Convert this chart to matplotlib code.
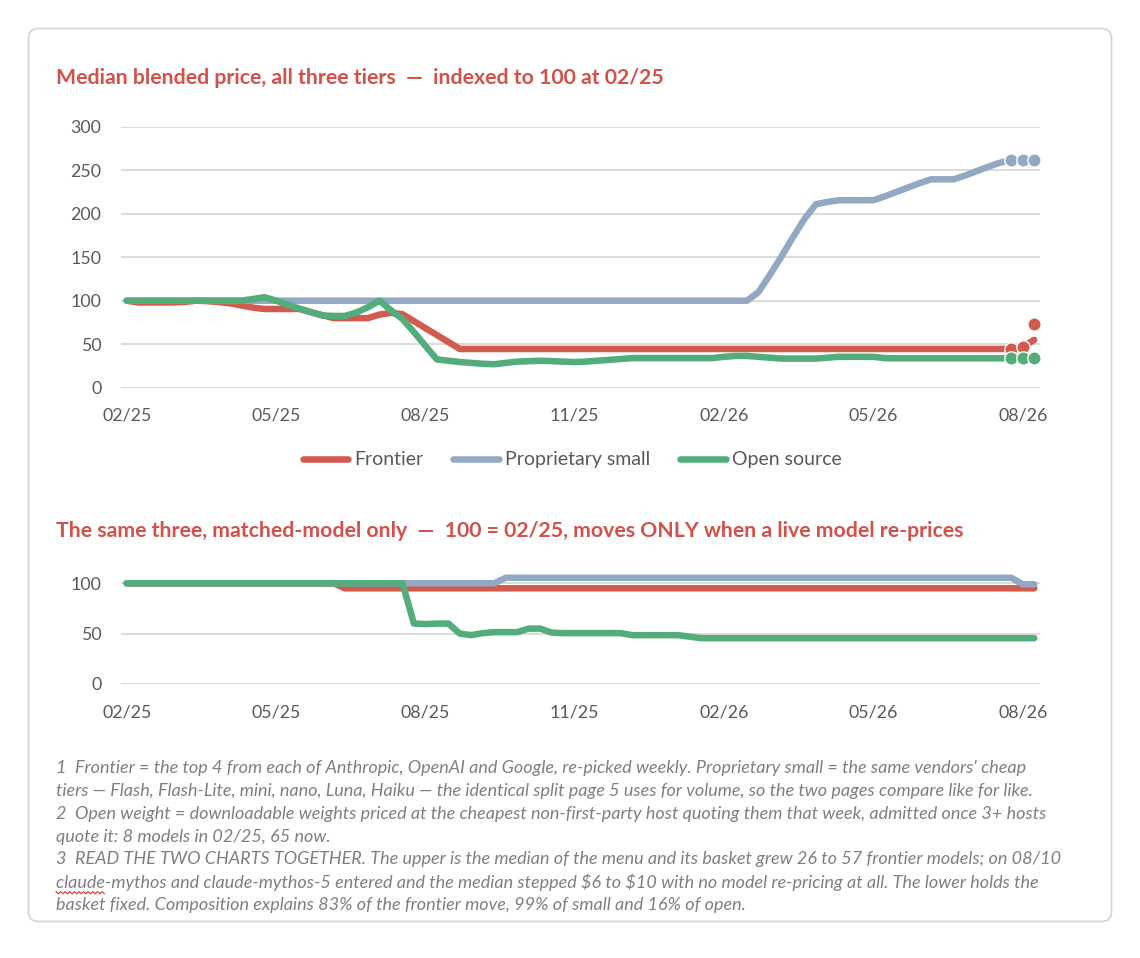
import matplotlib
matplotlib.use("Agg")
import matplotlib.pyplot as plt
from matplotlib.lines import Line2D
from matplotlib.patches import FancyBboxPatch
from matplotlib.transforms import IdentityTransform
import numpy as np

# ---------------- data ----------------
series_names = ["Frontier", "Proprietary small", "Open source"]
tick_labels = ["02/25", "05/25", "08/25", "11/25", "02/26", "05/26", "08/26"]
weeks_between_labels = 13

# upper chart: median blended price, indexed to 100 at 02/25 (weekly)
frontier_top = ([100] + [98] * 4 + [98.5, 100, 99.5, 98.5, 97, 94.5, 92] + [90.5] * 4
                + [87, 83.5] + [80] * 4 + [84, 86, 84.5, 76.5, 68.5, 60.5, 52.5, 44.5]
                + [44.5] * 47 + [45, 47, 55])
frontier_latest_point = 73
small_top = ([100] * 55 + [110, 130, 151, 173, 194, 211, 213.5, 215.5, 215.5, 215.5, 215.5,
                           220, 225, 230, 235, 239.5, 239.5, 239.5, 244, 249, 254, 258.5,
                           262, 262, 262])
open_top = ([100] * 11 + [102, 104, 100, 95.5, 91, 87, 83, 82.5, 82.5, 86.5, 92.5, 100, 89, 79,
                          64, 48, 32.5, 31, 29.5, 28.5, 27.5, 27, 28.5, 30, 30.5, 31, 30.5, 30,
                          29.5, 30, 31, 32, 33, 34]
            + [34] * 7 + [35.5, 36.5, 36.5, 35.5, 34.5, 33.5, 33.5, 33.5, 33.5, 34.5, 35.5,
                          35.5, 35.5, 35.5, 34]
            + [33.8] * 13)

# lower chart: matched-model only, 100 = 02/25 (weekly)
frontier_bot = [100] * 19 + [95] * 61
small_bot = [100] * 33 + [105.5] * 45 + [99, 99]
open_bot = ([100] * 25 + [60, 59.5, 60, 60, 50, 48.5, 50.5, 51.5, 51.5, 51.5, 55, 55, 51]
            + [50.5] * 6 + [48.5] * 4 + [48.5, 47] + [45.5] * 30)

top_yticks = [0, 50, 100, 150, 200, 250, 300]
bot_yticks = [0, 50, 100]

title_top = "Median blended price, all three tiers  \u2014  indexed to 100 at 02/25"
title_bot = ("The same three, matched-model only  \u2014  100 = 02/25, moves ONLY when a "
             "live model re-prices")
footnotes = [
    "1  Frontier = the top 4 from each of Anthropic, OpenAI and Google, re-picked weekly. Proprietary small = the same vendors' cheap",
    "tiers \u2014 Flash, Flash-Lite, mini, nano, Luna, Haiku \u2014 the identical split page 5 uses for volume, so the two pages compare like for like.",
    "2  Open weight = downloadable weights priced at the cheapest non-first-party host quoting them that week, admitted once 3+ hosts",
    "quote it: 8 models in 02/25, 65 now.",
    "3  READ THE TWO CHARTS TOGETHER. The upper is the median of the menu and its basket grew 26 to 57 frontier models; on 08/10",
    "claude-mythos and claude-mythos-5 entered and the median stepped $6 to $10 with no model re-pricing at all. The lower holds the",
    "basket fixed. Composition explains 83% of the frontier move, 99% of small and 16% of open.",
]

# ---------------- style ----------------
RED = "#D35A4F"
BLUE = "#93A8C3"
GREEN = "#52AD7B"
TITLE_RED = "#D4504A"
GRID = "#DADAD3"
TICK = "#595959"
NOTE = "#7F7F7F"
colors = [RED, BLUE, GREEN]
FONT = "Lato"
NOTE_SIZE = 13.0
TITLE_SIZE = 15.3

W, H = 1140, 958
fig = plt.figure(figsize=(W / 100, H / 100), dpi=100)
fig.patch.set_facecolor("white")


def fx(px):
    return px / W


def fy(py):
    return 1 - py / H


border = FancyBboxPatch((28.5, H - 921.5), 1083, 893, boxstyle="round,pad=0,rounding_size=10",
                        transform=IdentityTransform(), fc="white", ec="#D6D6D6", lw=1.3,
                        zorder=0)
fig.add_artist(border)

ax1 = fig.add_axes([fx(121), fy(387.7), (1040 - 121) / W, (387.7 - 126.7) / H])
ax2 = fig.add_axes([fx(121), fy(684), (1040 - 121) / W, (684 - 573.2) / H])

n = len(frontier_top)
x = np.arange(n)
tick_pos = np.arange(0, n, weeks_between_labels)[:len(tick_labels)]

for ax, yt, ylim in [(ax1, top_yticks, (0, 300)), (ax2, bot_yticks, (0, 110))]:
    ax.set_facecolor("none")
    for s in ax.spines.values():
        s.set_visible(False)
    ax.set_xlim(-0.5, n - 0.5)
    ax.set_ylim(*ylim)
    ax.set_yticks(yt)
    ax.set_yticklabels([str(v) for v in yt])
    ax.set_xticks(tick_pos)
    ax.set_xticklabels(tick_labels)
    ax.yaxis.grid(True, color=GRID, lw=1.3)
    ax.set_axisbelow(True)
    ax.tick_params(axis="both", length=0, colors=TICK, labelsize=12.8)
    ax.tick_params(axis="y", pad=14.2)
    ax.tick_params(axis="x", pad=14.5)
    for lab in ax.get_xticklabels() + ax.get_yticklabels():
        lab.set_fontfamily(FONT)
        lab.set_color(TICK)

LW = 4.7
for vals, c in zip([frontier_top, small_top, open_top], colors):
    ax1.plot(x, vals, color=c, lw=LW, solid_capstyle="round", solid_joinstyle="round",
             zorder=3)
    if c == RED:
        my = [vals[-3], vals[-2], frontier_latest_point]
    else:
        my = vals[-3:]
    ax1.plot(x[-3:], my, "o", ms=9.6, mfc=c, mec="white", mew=1.0, zorder=3)

for vals, c in zip([frontier_bot, small_bot, open_bot], colors):
    ax2.plot(x, vals, color=c, lw=LW, solid_capstyle="round", solid_joinstyle="round",
             zorder=3)

handles = [Line2D([0], [0], color=c, lw=LW, solid_capstyle="round") for c in colors]
leg = fig.legend(handles, series_names, loc="center", bbox_to_anchor=(fx(572), fy(460)),
                 ncol=3, frameon=False, prop={"family": FONT, "size": 14},
                 handlelength=2.35, handletextpad=0.3, columnspacing=1.55)
for t in leg.get_texts():
    t.set_color(TICK)

fig.text(fx(56), fy(78), title_top, family=FONT, weight="bold", size=TITLE_SIZE,
         color=TITLE_RED, ha="left", va="center")
fig.text(fx(56), fy(531), title_bot, family=FONT, weight="bold", size=TITLE_SIZE,
         color=TITLE_RED, ha="left", va="center")

note_y0, note_dy = 768.3, 22.78
note_texts = []
for i, line in enumerate(footnotes):
    t = fig.text(fx(56), fy(note_y0 + i * note_dy), line, family=FONT, style="italic",
                 size=NOTE_SIZE, color=NOTE, ha="left", va="center", parse_math=False)
    note_texts.append(t)

# spell-check squiggle under "claude" on the 6th footnote line
fig.canvas.draw()
r = fig.canvas.get_renderer()
tmp = fig.text(0, 0, "claude", family=FONT, style="italic", size=NOTE_SIZE)
wbb = tmp.get_window_extent(r)
tmp.remove()
bb6 = note_texts[5].get_window_extent(r)
sx = np.arange(bb6.x0, bb6.x0 + wbb.width, 2.3)
sy = (H - (note_y0 + 5 * note_dy + 10.5)) + np.where(np.arange(len(sx)) % 2 == 0, 1.1, -1.1)
fig.add_artist(Line2D(sx, sy, color="#E2342A", lw=0.8, transform=IdentityTransform()))

fig.savefig("out.png", dpi=100, facecolor="white")
